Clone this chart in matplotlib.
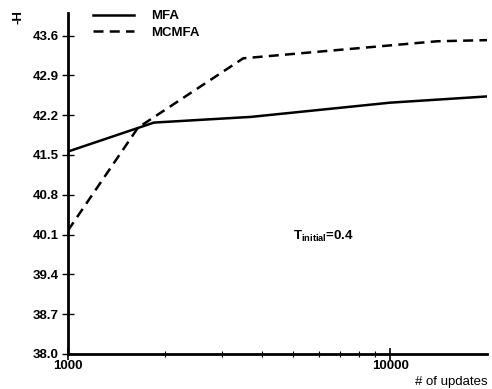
import matplotlib.pyplot as plt
from matplotlib.ticker import FixedLocator, NullFormatter

# data
mfa_x = [1000, 1850, 3700, 10000, 20000]
mfa_y = [41.56, 42.07, 42.17, 42.42, 42.53]
mcmfa_x = [1000, 1650, 3500, 14000, 20000]
mcmfa_y = [40.17, 41.98, 43.20, 43.50, 43.52]
yticks = [38.0, 38.7, 39.4, 40.1, 40.8, 41.5, 42.2, 42.9, 43.6]

plt.rcParams['font.family'] = ['Liberation Sans', 'DejaVu Sans']
plt.rcParams['font.weight'] = 'bold'
plt.rcParams['mathtext.fontset'] = 'custom'
plt.rcParams['mathtext.rm'] = 'Liberation Sans:bold'

fig = plt.figure(figsize=(4.92, 3.89), dpi=100)
ax = fig.add_axes([0.138, 0.09, 0.852, 0.877])

ax.plot(mfa_x, mfa_y, color='black', lw=1.8, label='MFA')
ax.plot(mcmfa_x, mcmfa_y, color='black', lw=1.8, ls=(0, (4, 2.5)), label='MCMFA')

ax.set_xscale('log')
ax.set_xlim(1000, 20000)
ax.set_ylim(38.0, 44.0)

ax.set_yticks(yticks)
ax.set_yticklabels(['%.1f' % v for v in yticks], fontsize=9.5)
ax.xaxis.set_major_locator(FixedLocator([1000, 10000]))
ax.set_xticklabels(['1000', '10000'], fontsize=9.5)
ax.xaxis.set_minor_locator(FixedLocator([2000, 3000, 4000, 5000, 6000, 7000, 8000, 9000]))
ax.xaxis.set_minor_formatter(NullFormatter())

ax.tick_params(axis='y', direction='inout', length=9, width=1, pad=2)
ax.tick_params(axis='x', which='major', direction='inout', length=8, width=1.2, pad=0)
ax.tick_params(axis='x', which='minor', direction='inout', length=5, width=0.8)

for s in ['top', 'right']:
    ax.spines[s].set_visible(False)
ax.spines['left'].set_linewidth(2)
ax.spines['bottom'].set_linewidth(2)

ax.set_xlabel('# of updates', fontsize=9.5)
ax.xaxis.set_label_coords(0.915, -0.065)
fig.text(0.037, 0.955, '-H', rotation=90, fontsize=9.5, ha='center', va='center')

ax.text(0.537, 0.346, r'T$_{\rm initial}$=0.4', transform=ax.transAxes,
        fontsize=9.5, va='center')

fig.legend(loc='upper left', bbox_to_anchor=(0.165, 1.005), frameon=False,
           fontsize=9.5, handlelength=3.1, handletextpad=1.3, labelspacing=0.35)

fig.savefig('out.png', dpi=100)
